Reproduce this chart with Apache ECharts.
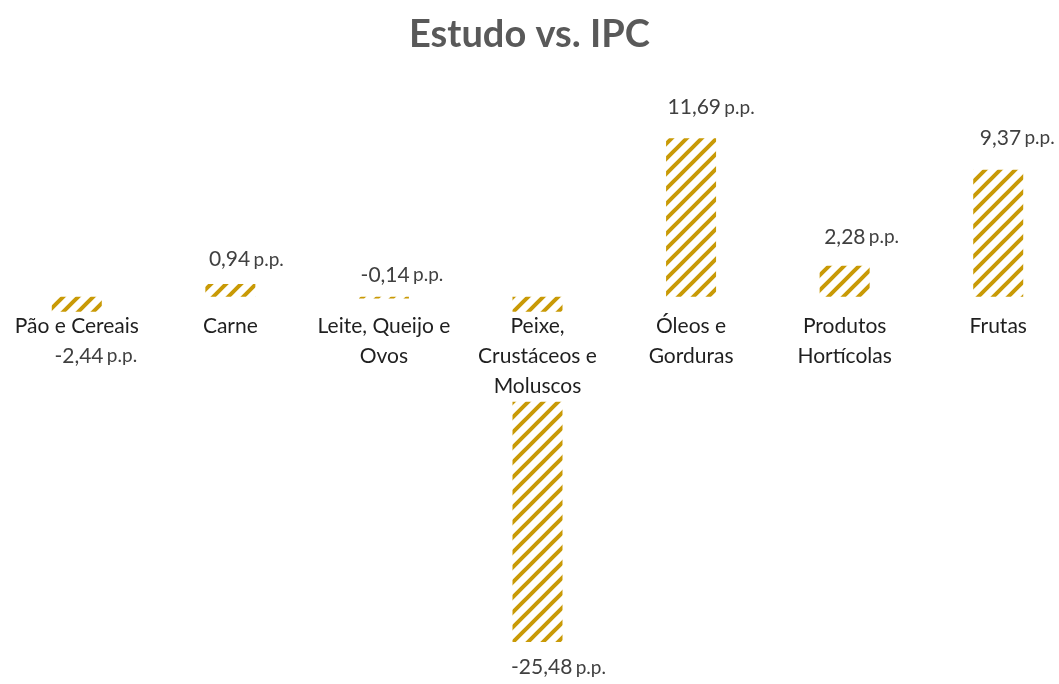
<!DOCTYPE html>
<html>
<head>
<meta charset="utf-8">
<script src="https://cdn.jsdelivr.net/npm/echarts@6/dist/echarts.min.js"></script>
<style>
    html, body { margin: 0; padding: 0; background: #fff; }
    #chart { width: 1059px; height: 684px; }
</style>
</head>
<body>
<div id="chart"></div>
<script>
// dados
var categories = ['Pão e Cereais', 'Carne', 'Leite, Queijo e\nOvos', 'Peixe,\nCrustáceos e\nMoluscos', 'Óleos e\nGorduras', 'Produtos\nHortícolas', 'Frutas'];
var values = [-2.44, 0.94, -0.14, -25.48, 11.69, 2.28, 9.37];
var unit = 'p.p.';
var yMin = -26, yMax = 12;

// posição dos rótulos (como no Excel, movidos à mão)
var labelPos = ['bottom', 'top', 'top', 'bottom', 'top', 'top', 'top'];
var labelNudge = [[19, 11], [16, -9], [18, -6], [21, 10], [20, -15], [17, -13], [19, -16]];

var gold = '#C99A06';

// padrão de riscas diagonais
function stripes() {
    var s = 15;
    var c = document.createElement('canvas');
    c.width = s; c.height = s;
    var g = c.getContext('2d');
    g.fillStyle = '#fff';
    g.fillRect(0, 0, s, s);
    g.strokeStyle = gold;
    g.lineWidth = 4;
    g.beginPath();
    g.moveTo(-4, 4); g.lineTo(4, -4);
    g.moveTo(0, s); g.lineTo(s, 0);
    g.moveTo(s - 4, s + 4); g.lineTo(s + 4, s - 4);
    g.stroke();
    return c;
}
var pattern = { image: stripes(), repeat: 'repeat' };

var barData = values.map(function (v, i) {
    return {
        value: v,
        label: { position: labelPos[i], offset: labelNudge[i] }
    };
});

var chart = echarts.init(document.getElementById('chart'));
chart.setOption({
    animation: false,
    title: {
        text: 'Estudo vs. IPC',
        left: 'center',
        top: 11,
        textStyle: { fontFamily: 'Lato', fontSize: 38, fontWeight: 'bold', color: '#595959' }
    },
    grid: { left: 0, right: -16, top: 134, bottom: 35, outerBoundsMode: 'none', containLabel: false },
    xAxis: {
        type: 'category',
        data: categories,
        z: 10,
        position: 'bottom',
        offset: 0,
        axisLine: { show: false, onZero: false },
        axisTick: { show: false },
        axisLabel: {
            interval: 0,
            margin: 15,
            fontFamily: 'Lato',
            fontSize: 21,
            lineHeight: 30,
            color: '#1f1f1f',
            backgroundColor: '#fff'
        }
    },
    yAxis: {
        type: 'value',
        min: yMin,
        max: yMax,
        show: false,
        splitLine: { show: false }
    },
    series: [{
        type: 'bar',
        data: barData,
        barWidth: 50,
        itemStyle: { color: pattern },
        label: {
            show: true,
            distance: 5,
            formatter: function (p) {
                return '{v|' + p.value.toFixed(2).replace('.', ',') + '} {u|' + unit + '}';
            },
            rich: {
                v: { fontFamily: 'Lato', fontSize: 21, color: '#404040' },
                u: { fontFamily: 'Lato', fontSize: 19, color: '#404040' }
            }
        }
    }]
});

// levar o eixo das categorias até à linha do zero
var zeroY = chart.convertToPixel({ yAxisIndex: 0 }, 0);
var bottomY = chart.convertToPixel({ yAxisIndex: 0 }, yMin);
chart.setOption({ xAxis: { offset: zeroY - bottomY } });
</script>
</body>
</html>
